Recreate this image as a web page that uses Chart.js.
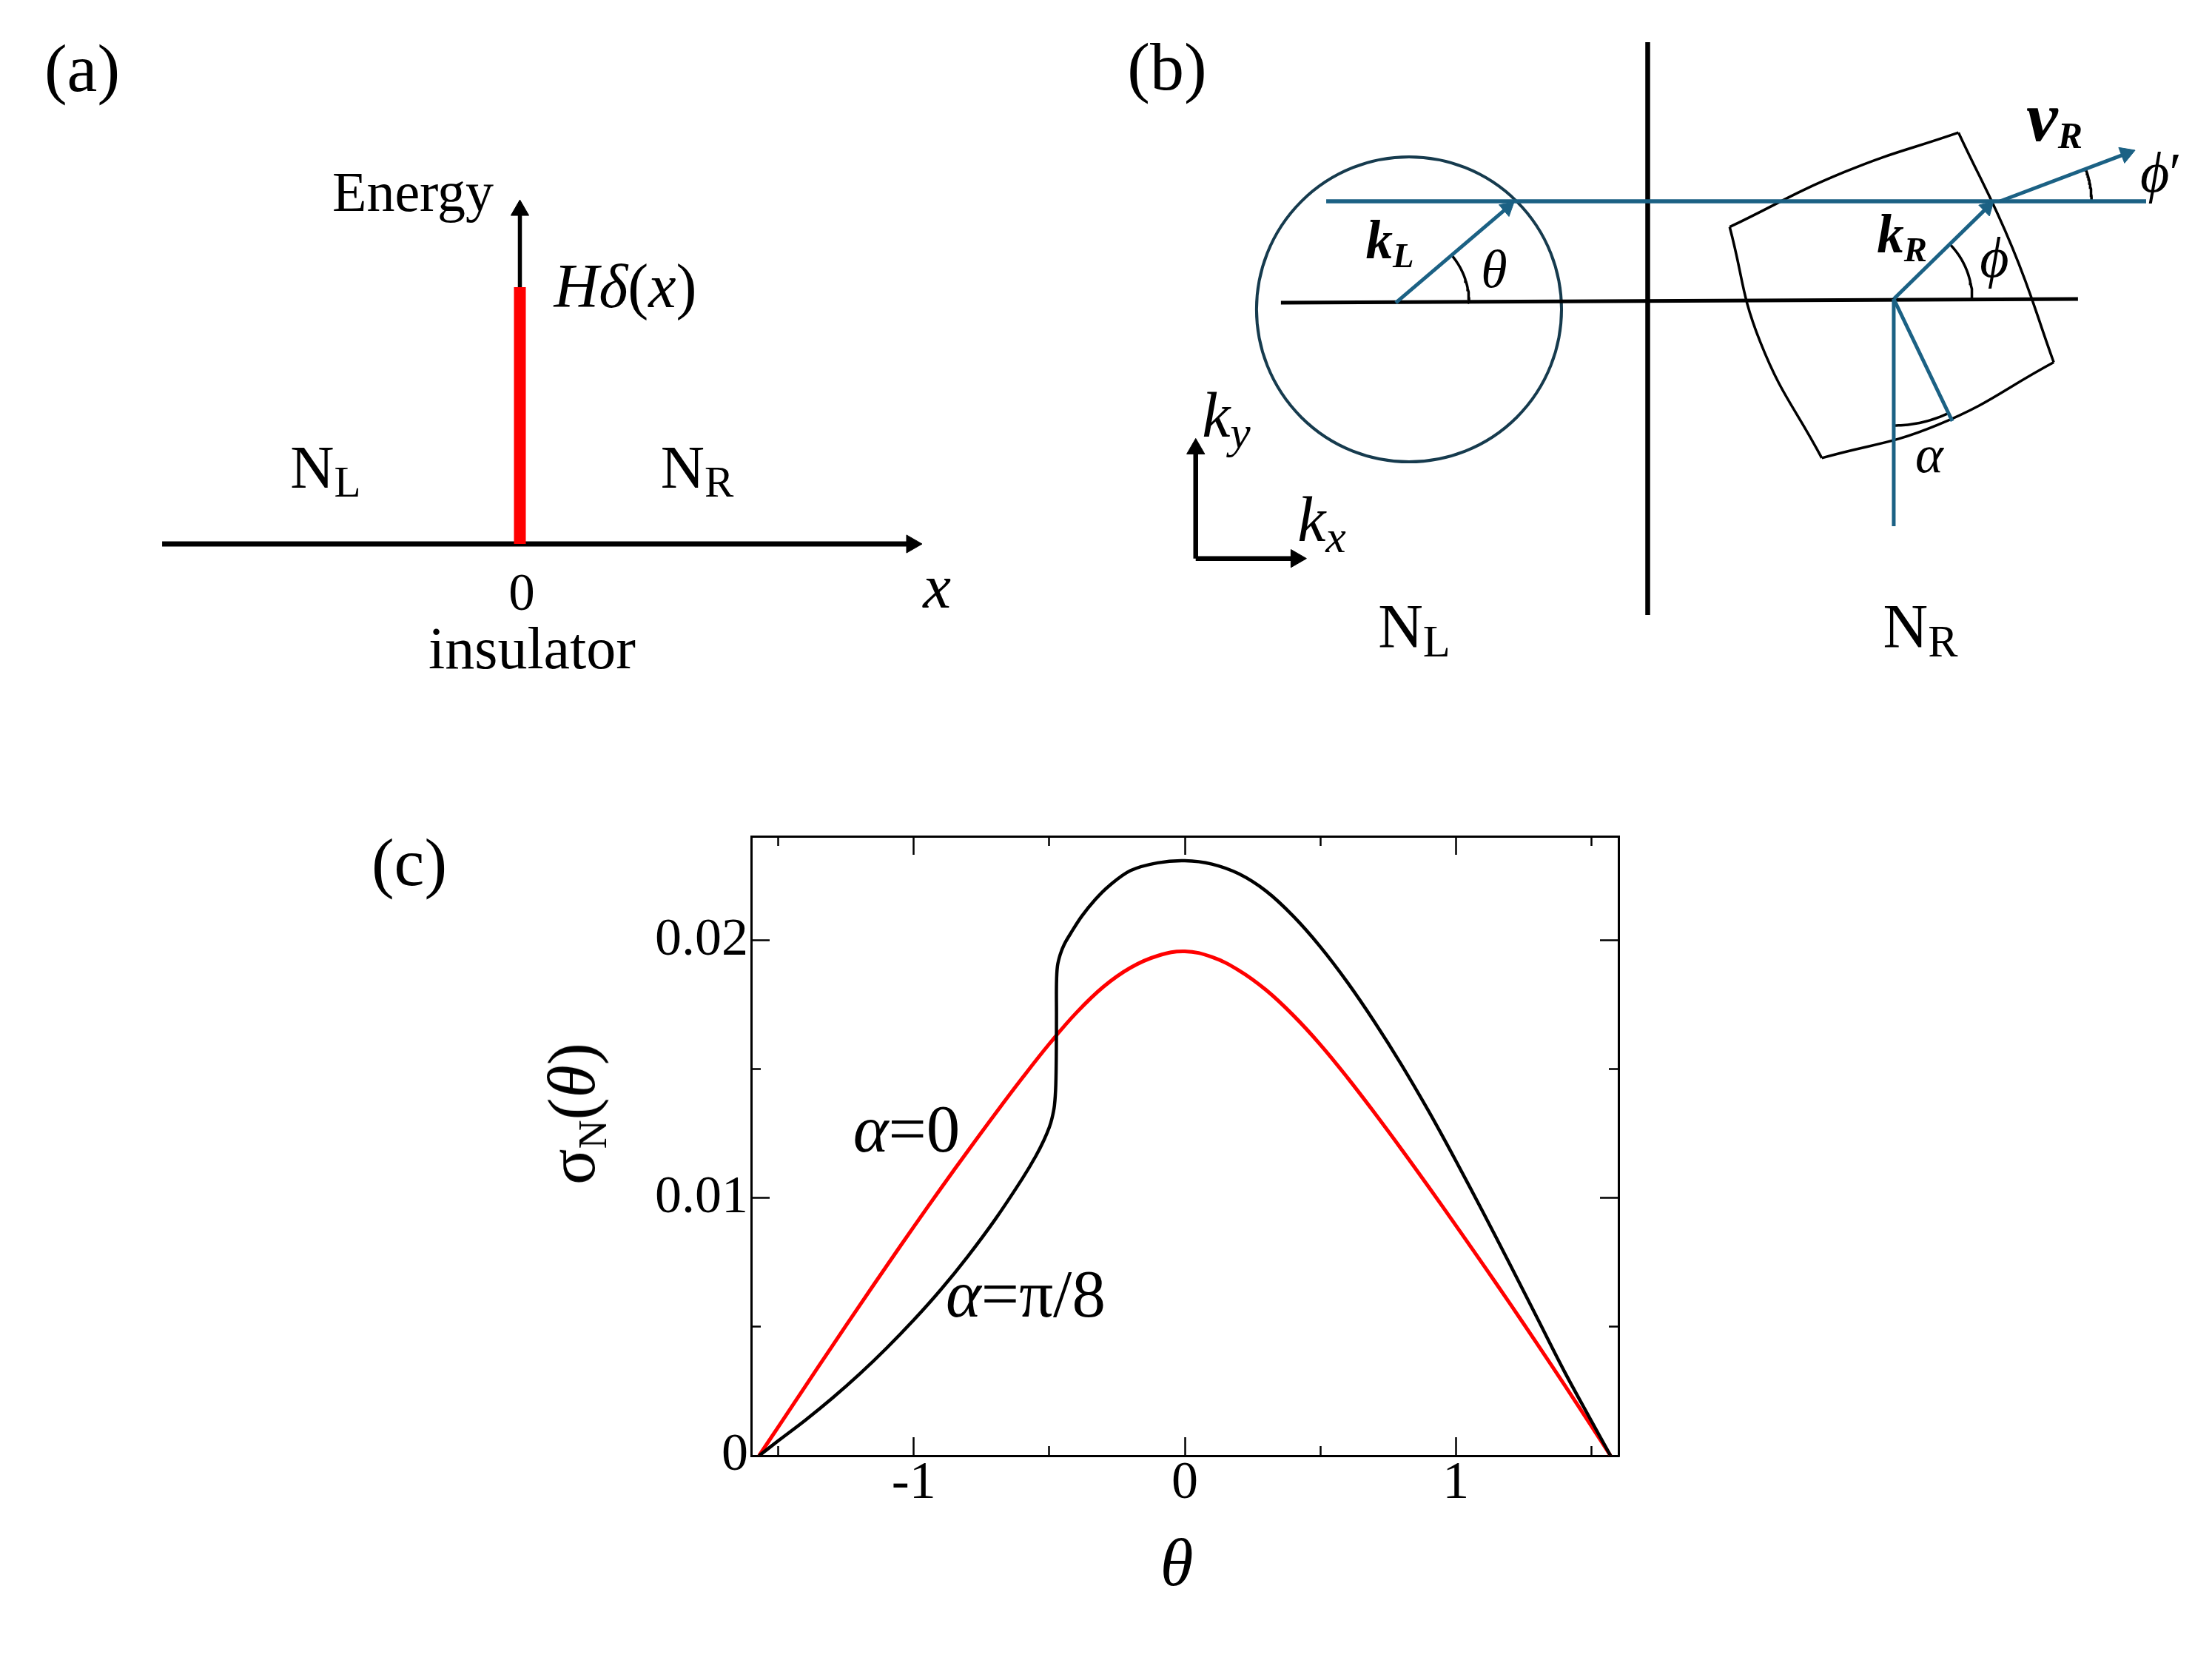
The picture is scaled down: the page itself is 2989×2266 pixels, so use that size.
<!DOCTYPE html>
<html>
<head>
<meta charset="utf-8">
<title>Normal-state tunnelling conductance</title>
<script src="https://cdn.jsdelivr.net/npm/chart.js@4.4.1/dist/chart.umd.min.js"></script>
<style>
  html, body { margin: 0; padding: 0; background: #fff; }
  #page { position: relative; width: 2989px; height: 2266px; overflow: hidden; background: #fff;
          font-family: 'Liberation Serif', 'Times New Roman', serif; color: #000; }
  #page canvas { position: absolute; }
  .lbl { position: absolute; line-height: 1; white-space: nowrap; transform: translate(-50%, -83.75%); }
  .lbl .sb { position: relative; font-size: 0.64em; top: 0.25em; }
  .ytitle { transform: translate(-50%, -50%) rotate(-90deg); }
</style>
</head>
<body>
<div id="page">
  <canvas id="junction" width="1450" height="1000" style="left:0;top:0"></canvas>
  <canvas id="fermi" width="1539" height="1000" style="left:1450px;top:0"></canvas>
  <canvas id="sigma" width="1600" height="1150" style="left:700px;top:1080px"></canvas>
</div>
<script>
// ---- (c) conductance curves ----
const thetaAlpha0 = [-1.5708, -1.5, -1.4, -1.3, -1.2, -1.1, -1.0, -0.9, -0.8, -0.7, -0.6, -0.5, -0.4, -0.3, -0.2, -0.1,
  0, 0.1, 0.2, 0.3, 0.4, 0.5, 0.6, 0.7, 0.8, 0.9, 1.0, 1.1, 1.2, 1.3, 1.4, 1.5, 1.5708];
const sigmaAlpha0 = [0, 0.00112, 0.0027, 0.00427, 0.00583, 0.00737, 0.00889, 0.01038, 0.01184, 0.01327, 0.01466, 0.01599,
  0.0172, 0.01821, 0.01895, 0.01941, 0.01958, 0.01936, 0.01884, 0.01808, 0.0171, 0.01596, 0.01468, 0.01331, 0.01189,
  0.01043, 0.00894, 0.00743, 0.0059, 0.00434, 0.00276, 0.00115, 0];

const thetaAlphaPi8 = [-1.5708, -1.5, -1.4, -1.3, -1.2, -1.1, -1.0, -0.9, -0.8, -0.7, -0.6, -0.55, -0.52, -0.5, -0.49,
  -0.481, -0.476, -0.474, -0.4735, -0.4735, -0.47, -0.46, -0.445, -0.42, -0.38, -0.33, -0.28, -0.2, -0.1, 0, 0.1, 0.2,
  0.3, 0.4, 0.5, 0.6, 0.7, 0.8, 0.9, 1.0, 1.1, 1.2, 1.3, 1.4, 1.5, 1.5708];
const sigmaAlphaPi8 = [0, 0.00058, 0.00138, 0.00224, 0.00317, 0.00418, 0.00527, 0.00645, 0.00775, 0.00917, 0.01075,
  0.01163, 0.01225, 0.01275, 0.0131, 0.0136, 0.0144, 0.0158, 0.0172, 0.0183, 0.0190, 0.01945, 0.01985, 0.0203, 0.02095,
  0.0216, 0.02212, 0.02272, 0.02302, 0.0231, 0.02297, 0.02259, 0.02192, 0.02095, 0.01976, 0.01838, 0.01684, 0.01517,
  0.01337, 0.01145, 0.00946, 0.00742, 0.00535, 0.00328, 0.00135, 0];

const thetaTicks = [-1, 0, 1];
const thetaTickLabels = ['-1', '0', '1'];
const thetaMinorTicks = [-1.5, -0.5, 0.5, 1.5];
const sigmaTicks = [0, 0.01, 0.02];
const sigmaTickLabels = ['0', '0.01', '0.02'];
const sigmaMinorTicks = [0.005, 0.015];
const thetaRange = [-1.6, 1.6];
const sigmaRange = [0, 0.02405];

// ---- (a) junction sketch: position x vs energy (sketch units) ----
const positionAxis = [[-2.536, 0], [2.851, 0]];
const energyAxis = [[0, 0], [0, 2.439]];
const barrier = [[0, 0], [0, 1.82]];

// ---- (b) Fermi surfaces in (kx, ky), sketch units ----
const interfaceLine = [[0, 1.831], [0, -2.23]];
const kxLine = [[-2.60, -0.016], [3.05, 0.0105]];
const incidentLine = [[-2.279, 0.703], [3.533, 0.703]];
const leftCircleCenter = [-1.692, -0.063];
const leftCircleRadius = 1.081;
const kL = [[-1.786, -0.016], [-0.947, 0.698]];
const kR = [[1.744, 0.0105], [2.452, 0.703]];
const vR = [[2.496, 0.703], [3.455, 1.065]];
const rightVertical = [[1.744, 0.0105], [1.744, -1.60]];
const rightTilted = [[1.744, 0.0105], [2.159, -0.855]];
const rightFermiCorners = [[0.581, 0.521], [2.203, 1.190], [2.878, -0.438], [1.234, -1.117]];
const rightFermiBulges = [[1.391, 0.909], [2.584, 0.376], [2.055, -0.882], [0.799, -0.297]];
const kyArrow = [[-3.204, -1.829], [-3.204, -0.978]];
const kxArrow = [[-3.204, -1.829], [-2.419, -1.829]];
// angle marks: [centre, radius, from deg, to deg]
const angleMarks = [
  [kL[0], 0.52, 0, 40.3],
  [kR[0], 0.556, 0, 44.4],
  [vR[0], 0.65, 0, 20.7],
  [kR[0], 0.897, -90, -64.4]
];

const UNIT = 190.625;   // canvas px per sketch unit
const TEAL = '#1b6184';
const DARK = '#163b4e';
const RED = '#ff0000';
const serif = "'Liberation Serif', 'Times New Roman', serif";

function line(pts, color, width, extra) {
  return Object.assign({
    data: pts.map(p => ({ x: p[0], y: p[1] })),
    showLine: true, borderColor: color, borderWidth: width,
    pointRadius: 0, tension: 0, borderCapStyle: 'butt'
  }, extra || {});
}

function arrow(pts, color, width, head) {
  const [x0, y0] = pts[0], [x1, y1] = pts[1];
  const a = Math.atan2(y1 - y0, x1 - x0);
  const back = head / UNIT;
  const end = [x1 - Math.cos(a) * back, y1 - Math.sin(a) * back];
  return line([pts[0], end], color, width, {
    pointRadius: ctx => ctx.dataIndex === 1 ? head : 0,
    pointStyle: 'triangle',
    pointRotation: 90 - a * 180 / Math.PI,
    pointBackgroundColor: color, pointBorderColor: color, pointBorderWidth: 1
  });
}

function arcMark([c, r, a0, a1], color, width) {
  const pts = [];
  for (let i = 0; i <= 24; i++) {
    const t = (a0 + (a1 - a0) * i / 24) * Math.PI / 180;
    pts.push([c[0] + r * Math.cos(t), c[1] + r * Math.sin(t)]);
  }
  return line(pts, color, width);
}

function circle(c, r, color, width) {
  return {
    data: [{ x: c[0], y: c[1] }], showLine: false, pointStyle: 'circle',
    pointRadius: ctx => {
      const s = ctx.chart.scales.x;
      return Math.abs(s.getPixelForValue(r) - s.getPixelForValue(0));
    },
    pointBackgroundColor: 'rgba(0,0,0,0)', pointBorderColor: color, pointBorderWidth: width
  };
}

function sketch(id, ox, oy, datasets) {
  const cv = document.getElementById(id);
  const w = cv.width, h = cv.height;
  return new Chart(cv, {
    type: 'scatter',
    data: { datasets },
    options: {
      responsive: false, animation: false, events: [],
      layout: { padding: 0, autoPadding: false },
      plugins: { legend: { display: false }, tooltip: { enabled: false } },
      scales: {
        x: { type: 'linear', display: false, min: -ox / UNIT, max: (w - ox) / UNIT },
        y: { type: 'linear', display: false, min: -(h - oy) / UNIT, max: oy / UNIT }
      }
    }
  });
}

// (a)
sketch('junction', 702.5, 735, [
  line(barrier, RED, 16),
  arrow(energyAxis, '#000', 5.5, 14),
  arrow(positionAxis, '#000', 7, 14)
]);

// (b)
const quadEdges = rightFermiCorners.map((p, i) =>
  line([p, rightFermiBulges[i], rightFermiCorners[(i + 1) % 4]], '#000', 3.5, { tension: 0.45 }));
sketch('fermi', 776.5, 406, [
  arrow(kL, TEAL, 5, 12),
  arrow(kR, TEAL, 5, 12),
  arrow(vR, TEAL, 5, 13),
  line(incidentLine, TEAL, 5.5),
  line(rightVertical, TEAL, 5),
  line(rightTilted, TEAL, 5),
  ...angleMarks.map(m => arcMark(m, '#000', 3.5)),
  arrow(kyArrow, '#000', 6.5, 14),
  arrow(kxArrow, '#000', 6.5, 14),
  line(kxLine, '#000', 5),
  line(interfaceLine, '#000', 6.5),
  circle(leftCircleCenter, leftCircleRadius, DARK, 4),
  ...quadEdges
]);

// (c)
const tickFont = { family: serif, size: 72 };
function frameAxis(pos, range, values, labels, len, minor) {
  const horiz = pos === 'top' || pos === 'bottom';
  const size = labels ? (horiz ? 263 : 315) : 0;
  return {
    type: 'linear', position: pos, min: range[0], max: range[1],
    weight: minor ? -1 : 0,
    border: { display: !minor, width: 3, color: '#000' },
    grid: { drawOnChartArea: false, drawTicks: true, tickLength: -len, tickWidth: 2.5, tickColor: '#000' },
    ticks: {
      display: !!labels, autoSkip: false, maxRotation: 0, minRotation: 0,
      font: tickFont, color: '#000', padding: horiz ? 20 : 29,
      callback: (v, i) => labels ? labels[i] : ''
    },
    afterBuildTicks: s => { s.ticks = values.map(v => ({ value: v })); },
    afterFit: s => {
      if (horiz) s.height = size; else s.width = size;
      s.paddingTop = s.paddingBottom = s.paddingLeft = s.paddingRight = 0;
    }
  };
}

new Chart(document.getElementById('sigma'), {
  type: 'scatter',
  data: {
    datasets: [
      { label: 'α=π/8', data: thetaAlphaPi8.map((t, i) => ({ x: t, y: sigmaAlphaPi8[i] })),
        showLine: true, borderColor: '#000', borderWidth: 4.5, pointRadius: 0, tension: 0.35,
        xAxisID: 'x', yAxisID: 'y' },
      { label: 'α=0', data: thetaAlpha0.map((t, i) => ({ x: t, y: sigmaAlpha0[i] })),
        showLine: true, borderColor: RED, borderWidth: 5, pointRadius: 0, tension: 0.4,
        xAxisID: 'x', yAxisID: 'y' }
    ]
  },
  options: {
    responsive: false, animation: false, events: [],
    layout: { padding: { top: 50, right: 113, bottom: 0, left: 0 }, autoPadding: false },
    plugins: { legend: { display: false }, tooltip: { enabled: false } },
    scales: {
      x: frameAxis('bottom', thetaRange, thetaTicks, thetaTickLabels, 25, false),
      xMinor: frameAxis('bottom', thetaRange, thetaMinorTicks, null, 13, true),
      xTop: frameAxis('top', thetaRange, thetaTicks, null, 25, false),
      xTopMinor: frameAxis('top', thetaRange, thetaMinorTicks, null, 13, true),
      y: frameAxis('left', sigmaRange, sigmaTicks, sigmaTickLabels, 25, false),
      yMinor: frameAxis('left', sigmaRange, sigmaMinorTicks, null, 13, true),
      yRight: frameAxis('right', sigmaRange, sigmaTicks, null, 25, false),
      yRightMinor: frameAxis('right', sigmaRange, sigmaMinorTicks, null, 13, true)
    }
  }
});

// ---- text: [html, centre x, baseline y, font px] ----
const sub = (t, s, top) => `<span class="sb" style="font-size:${s}em;top:${top}em">${t}</span>`;
const texts = [
  ['(a)', 111, 123, 92],
  ['Energy', 558, 285, 76],
  ['<i>H</i><i>δ</i>(<i>x</i>)', 845, 415, 84],
  ['N' + sub('L', 0.72, 0.2), 440, 660, 82],
  ['N' + sub('R', 0.72, 0.2), 942, 660, 82],
  ['0', 705, 824, 71],
  ['insulator', 719, 903, 80],
  ['<i>x</i>', 1266, 821, 85],
  ['(b)', 1577, 121, 92],
  ['<b><i>k</i></b>' + sub('<b><i>L</i></b>', 0.64, 0.25), 1878, 349, 73],
  ['<i>θ</i>', 2019, 388, 72],
  ['<i>k</i>' + sub('<i>y</i>', 0.72, 0.25), 1657, 590, 86],
  ['<i>k</i>' + sub('<i>x</i>', 0.72, 0.25), 1786, 731, 86],
  ['N' + sub('L', 0.72, 0.2), 1911, 875, 84],
  ['N' + sub('R', 0.72, 0.2), 2595, 875, 84],
  ['<b><i>k</i></b>' + sub('<b><i>R</i></b>', 0.64, 0.25), 2570, 341, 73],
  ['<i>ϕ</i>', 2695, 374, 76],
  ['<b><i>v</i></b>' + sub('<b><i>R</i></b>', 0.52, 0.2), 2776, 190, 96],
  ['<i>ϕ</i>′', 2920, 259, 76],
  ['<i>α</i>', 2607, 638, 72],
  ['(c)', 553, 1196, 92],
  ['<i>α</i>=0', 1225, 1556, 91],
  ['<i>α</i>=π/8', 1386, 1779, 91],
  ['<i>θ</i>', 1590, 2142, 91]
];
const page = document.getElementById('page');
texts.forEach(([html, x, y, size]) => {
  const d = document.createElement('div');
  d.className = 'lbl';
  d.style.left = x + 'px';
  d.style.top = y + 'px';
  d.style.fontSize = size + 'px';
  d.innerHTML = html;
  page.appendChild(d);
});
const yt = document.createElement('div');
yt.className = 'lbl ytitle';
yt.style.left = '773px';
yt.style.top = '1505px';
yt.style.fontSize = '90px';
yt.innerHTML = 'σ' + sub('N', 0.6, 0.3) + '(<i>θ</i>)';
page.appendChild(yt);
</script>
</body>
</html>
